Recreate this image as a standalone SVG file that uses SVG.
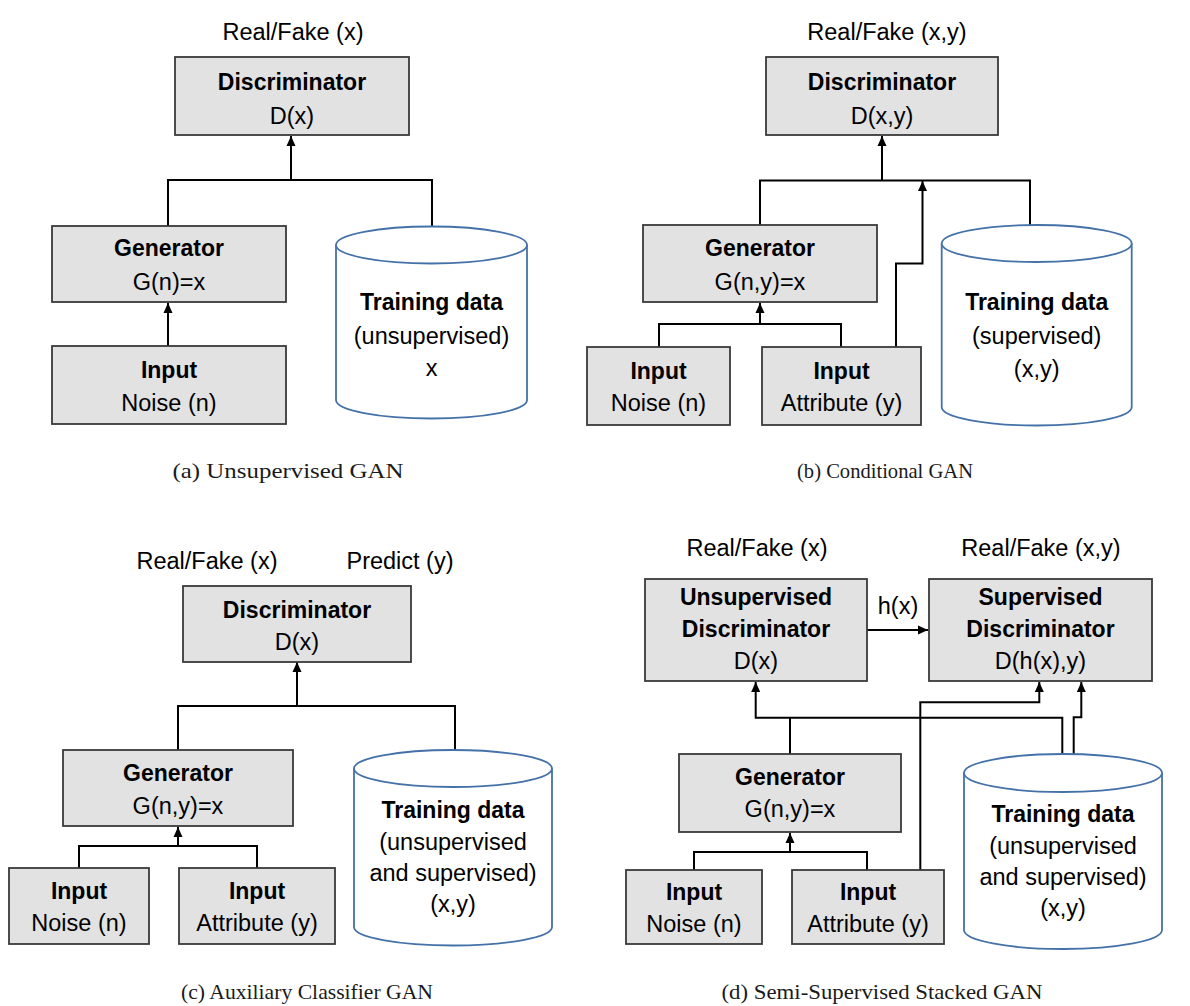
<svg xmlns="http://www.w3.org/2000/svg" width="1190" height="1006" viewBox="0 0 1190 1006">
<defs>
<marker id="ah" markerUnits="userSpaceOnUse" markerWidth="10" markerHeight="10" viewBox="0 0 10 10" refX="10" refY="5" orient="auto">
<path d="M0,0.5 L10,5 L0,9.5 Z" fill="#000"/>
</marker>
<style>
.box{fill:#e2e2e2;stroke:#3a3a3a;stroke-width:1.8}
.cyl{fill:#fff;stroke:#4472a8;stroke-width:1.8}
.b{font-family:"Liberation Sans",Arial,sans-serif;font-weight:bold;font-size:23px;fill:#000;text-anchor:middle}
.r{font-family:"Liberation Sans",Arial,sans-serif;font-size:23.5px;fill:#000;text-anchor:middle}
.cap{font-family:"Liberation Serif","Times New Roman",serif;font-size:22px;fill:#1a1a1a;text-anchor:middle}
.c{fill:none;stroke:#000;stroke-width:2}
.a{fill:none;stroke:#000;stroke-width:2;marker-end:url(#ah)}
</style>
</defs>
<rect width="1190" height="1006" fill="#fff"/>

<g id="connectors">
<!-- panel a -->
<path class="c" d="M168,226 V180 H432 V226"/>
<path class="a" d="M291,180 V136"/>
<path class="a" d="M168,346 V303"/>
<!-- panel b -->
<path class="c" d="M760,225 V180.5 H1030 V226"/>
<path class="a" d="M882,180.5 V136"/>
<path class="c" d="M659,347 V324 H841 V347"/>
<path class="a" d="M760,324 V303"/>
<path class="a" d="M896,347 V263.5 H922.5 V181"/>
<!-- panel c -->
<path class="c" d="M178,750 V706 H455 V751"/>
<path class="a" d="M297,706 V662"/>
<path class="c" d="M79,868 V846 H257 V868"/>
<path class="a" d="M178,846 V827"/>
<!-- panel d -->
<path class="a" d="M867,630 H928"/>
<path class="a" d="M1062.3,754 V717.7 H755.7 V682"/>
<path class="c" d="M790,754 V717.7"/>
<path class="a" d="M920.3,870 V702.3 H1039.3 V682"/>
<path class="a" d="M1073.7,754 V717.3 H1081.3 V682"/>
<path class="c" d="M694,870 V852 H867 V870"/>
<path class="a" d="M790,852 V833"/>
</g>

<!-- panel a -->
<text class="r" x="293" y="40">Real/Fake (x)</text>
<g id="a_disc">
<rect class="box" x="175" y="57" width="234" height="78"/>
<text class="b" x="292" y="90">Discriminator</text>
<text class="r" x="292" y="124">D(x)</text>
</g>
<g id="a_gen">
<rect class="box" x="52" y="226" width="234" height="76"/>
<text class="b" x="169" y="256">Generator</text>
<text class="r" x="169" y="290">G(n)=x</text>
</g>
<g id="a_input">
<rect class="box" x="52" y="346" width="234" height="78"/>
<text class="b" x="169" y="378">Input</text>
<text class="r" x="169" y="411">Noise (n)</text>
</g>
<g id="a_data">
<path class="cyl" d="M336,245 V400 A95.5,18.5 0 0 0 527,400 V245"/>
<ellipse class="cyl" cx="431.5" cy="245" rx="95.5" ry="18.5"/>
<text class="b" x="431.5" y="310">Training data</text>
<text class="r" x="431.5" y="344">(unsupervised)</text>
<text class="r" x="431.5" y="376">x</text>
</g>
<text class="cap" x="288" y="478" textLength="231" lengthAdjust="spacingAndGlyphs">(a) Unsupervised GAN</text>

<!-- panel b -->
<text class="r" x="887" y="40">Real/Fake (x,y)</text>
<g id="b_disc">
<rect class="box" x="766" y="57" width="232" height="78"/>
<text class="b" x="882" y="90">Discriminator</text>
<text class="r" x="882" y="124">D(x,y)</text>
</g>
<g id="b_gen">
<rect class="box" x="643" y="225" width="234" height="77"/>
<text class="b" x="760" y="256">Generator</text>
<text class="r" x="760" y="290">G(n,y)=x</text>
</g>
<g id="b_noise">
<rect class="box" x="587" y="347" width="143" height="78"/>
<text class="b" x="658.5" y="379">Input</text>
<text class="r" x="658.5" y="411">Noise (n)</text>
</g>
<g id="b_attr">
<rect class="box" x="762" y="347" width="159" height="78"/>
<text class="b" x="841.5" y="379">Input</text>
<text class="r" x="841.5" y="411">Attribute (y)</text>
</g>
<g id="b_data">
<path class="cyl" d="M941.7,243.5 V407 A95,18.5 0 0 0 1131.7,407 V243.5"/>
<ellipse class="cyl" cx="1036.7" cy="243.5" rx="95" ry="18.5"/>
<text class="b" x="1036.7" y="310">Training data</text>
<text class="r" x="1036.7" y="344">(supervised)</text>
<text class="r" x="1036.7" y="377">(x,y)</text>
</g>
<text class="cap" x="885" y="478" textLength="176" lengthAdjust="spacingAndGlyphs">(b) Conditional GAN</text>

<!-- panel c -->
<text class="r" x="207" y="569">Real/Fake (x)</text>
<text class="r" x="400" y="569">Predict (y)</text>
<g id="c_disc">
<rect class="box" x="183" y="586" width="228" height="76"/>
<text class="b" x="297" y="618">Discriminator</text>
<text class="r" x="297" y="650">D(x)</text>
</g>
<g id="c_gen">
<rect class="box" x="63" y="750" width="230" height="76"/>
<text class="b" x="178" y="781">Generator</text>
<text class="r" x="178" y="814">G(n,y)=x</text>
</g>
<g id="c_noise">
<rect class="box" x="9" y="868" width="140" height="76"/>
<text class="b" x="79" y="899">Input</text>
<text class="r" x="79" y="931">Noise (n)</text>
</g>
<g id="c_attr">
<rect class="box" x="179" y="868" width="156" height="76"/>
<text class="b" x="257" y="899">Input</text>
<text class="r" x="257" y="931">Attribute (y)</text>
</g>
<g id="c_data">
<path class="cyl" d="M354,768.5 V927 A99,18.5 0 0 0 552,927 V768.5"/>
<ellipse class="cyl" cx="453" cy="768.5" rx="99" ry="18.5"/>
<text class="b" x="453" y="818">Training data</text>
<text class="r" x="453" y="850">(unsupervised</text>
<text class="r" x="453" y="881">and supervised)</text>
<text class="r" x="453" y="912">(x,y)</text>
</g>
<text class="cap" x="307" y="999" textLength="252" lengthAdjust="spacingAndGlyphs">(c) Auxiliary Classifier GAN</text>

<!-- panel d -->
<text class="r" x="757" y="556">Real/Fake (x)</text>
<text class="r" x="1041" y="556">Real/Fake (x,y)</text>
<text class="r" x="898" y="614">h(x)</text>
<g id="d_udisc">
<rect class="box" x="645" y="579" width="222" height="102"/>
<text class="b" x="756" y="605">Unsupervised</text>
<text class="b" x="756" y="637">Discriminator</text>
<text class="r" x="756" y="669">D(x)</text>
</g>
<g id="d_sdisc">
<rect class="box" x="929" y="579" width="223" height="102"/>
<text class="b" x="1040.5" y="605">Supervised</text>
<text class="b" x="1040.5" y="637">Discriminator</text>
<text class="r" x="1040.5" y="669">D(h(x),y)</text>
</g>
<g id="d_gen">
<rect class="box" x="679" y="754" width="222" height="78"/>
<text class="b" x="790" y="785">Generator</text>
<text class="r" x="790" y="817">G(n,y)=x</text>
</g>
<g id="d_noise">
<rect class="box" x="626" y="870" width="136" height="74"/>
<text class="b" x="694" y="900">Input</text>
<text class="r" x="694" y="932">Noise (n)</text>
</g>
<g id="d_attr">
<rect class="box" x="792" y="870" width="152" height="74"/>
<text class="b" x="868" y="900">Input</text>
<text class="r" x="868" y="932">Attribute (y)</text>
</g>
<g id="d_data">
<path class="cyl" d="M964,773 V930 A99,19 0 0 0 1162,930 V773"/>
<ellipse class="cyl" cx="1063" cy="773" rx="99" ry="19"/>
<text class="b" x="1063" y="822">Training data</text>
<text class="r" x="1063" y="854">(unsupervised</text>
<text class="r" x="1063" y="885">and supervised)</text>
<text class="r" x="1063" y="916">(x,y)</text>
</g>
<text class="cap" x="882" y="999" textLength="321" lengthAdjust="spacingAndGlyphs">(d) Semi-Supervised Stacked GAN</text>
</svg>
